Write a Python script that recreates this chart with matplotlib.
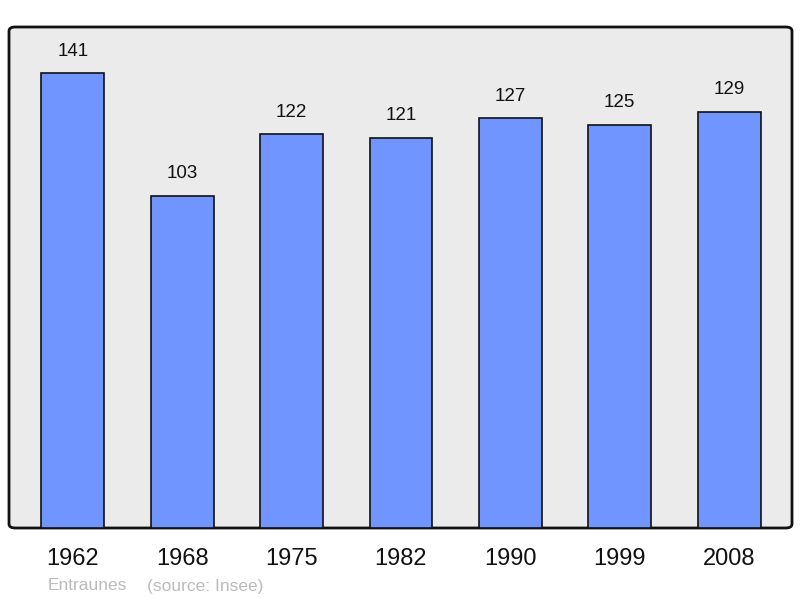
import matplotlib.pyplot as plt
from matplotlib.patches import FancyBboxPatch

years = ['1962', '1968', '1975', '1982', '1990', '1999', '2008']
population = [141, 103, 122, 121, 127, 125, 129]

fig = plt.figure(figsize=(8, 5.98), dpi=100)
ax = fig.add_axes([9 / 800, 1 - 528 / 598, 783 / 800, 501 / 598])
ax.set_facecolor('none')
ax.axis('off')

# fond gris arrondi
bg = FancyBboxPatch((0, 0), 1, 1, boxstyle='round,pad=0,rounding_size=0.008',
                    transform=ax.transAxes, facecolor='#ebebeb',
                    edgecolor='#111111', linewidth=2, zorder=0, clip_on=False)
ax.add_patch(bg)

x = list(range(len(years)))
ax.bar(x, population, width=0.576, color='#7095ff', edgecolor='#111111',
       linewidth=1.2, zorder=2)
for i, v in enumerate(population):
    ax.annotate(str(v), (i, v), xytext=(0, 22), textcoords='offset pixels',
                ha='center', va='center', fontsize=13.5, family='Liberation Sans',
                color='#111111')

ax.set_xlim(-0.585, 6.576)
ax.set_ylim(0, 155.3)

for i, y in enumerate(years):
    ax.text(i, -0.061, y, transform=ax.get_xaxis_transform(), ha='center',
            va='center', fontsize=17, family='Liberation Sans', color='#111111')

fig.text(48 / 800, 1 - 586 / 598, 'Entraunes', fontsize=12.5,
         family='Liberation Sans', color='#bbbbbb', va='center')
fig.text(147 / 800, 1 - 586 / 598, '(source: Insee)', fontsize=12.5,
         family='Liberation Sans', color='#bbbbbb', va='center')

fig.savefig('out.png', dpi=100)
